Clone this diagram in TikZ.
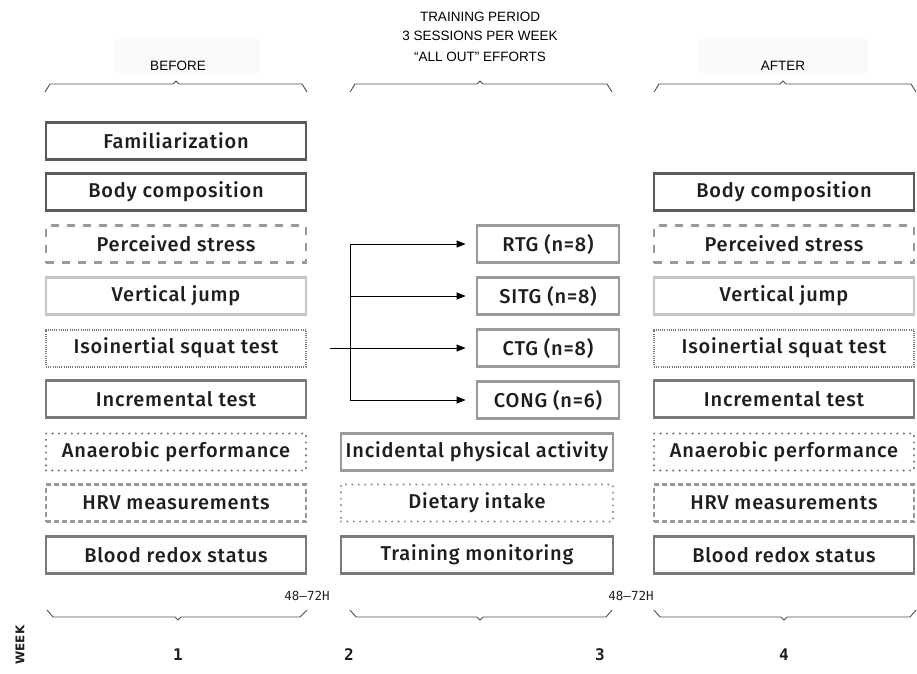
\documentclass[tikz,border=0pt]{standalone}
\usepackage{fontspec}
\setmainfont{Fira Sans}[UprightFont=* Medium, LetterSpace=4]
\newfontfamily\capfont{Liberation Sans}
\newfontfamily\monofont{DejaVu Sans Mono}
\newfontfamily\weekfont{DejaVu Sans}
\usetikzlibrary{arrows.meta}
\definecolor{txt}{HTML}{1E1E1E}
\definecolor{cdark}{HTML}{5A5A5A}
\definecolor{cmid}{HTML}{7A7A7A}
\definecolor{cgray}{HTML}{999999}
\definecolor{clight}{HTML}{C4C4C4}
\definecolor{cfaint}{HTML}{FAFAFA}
\tikzset{
  box/.style={draw, rectangle, line width=2.8pt, minimum height=37pt, inner sep=0pt,
    text=txt, font=\fontsize{20}{22}\selectfont, fill=white},
  wbox/.style={box, minimum width=260pt},
  gbox/.style={box, minimum width=142pt, draw=cgray},
  sdark/.style={draw=cdark},
  smid/.style={draw=cmid},
  slight/.style={draw=clight},
  sdashlong/.style={draw=cgray, dash pattern=on 8pt off 8pt},
  sdashshort/.style={draw=cgray, dash pattern=on 5pt off 3pt},
  sdotdense/.style={draw=cmid, line width=2pt, dash pattern=on 1pt off 1.2pt},
  sdotsparse/.style={draw=cmid, line width=2.4pt, line cap=round, dash pattern=on 0pt off 6.4pt},
  sdotsparselight/.style={draw=cgray, line width=2.4pt, line cap=round, dash pattern=on 0pt off 6.4pt},
  conn/.style={line width=0.9pt, draw=black},
  arr/.style={conn, -{Triangle[length=9pt,width=7pt]}},
  brace/.style={line width=0.9pt, draw=black!70},
  caplbl/.style={font=\capfont\fontsize{13.5}{15}\selectfont, text=black, inner sep=0pt},
  hlbl/.style={font=\monofont\fontsize{12.5}{14}\selectfont, text=txt, inner sep=0pt},
  wklbl/.style={font=\monofont\bfseries\fontsize{16}{17}\selectfont, text=txt, inner sep=0pt},
}
\begin{document}
\begin{tikzpicture}[x=1pt,y=-1pt]
\useasboundingbox (0,0) rectangle (917,673);
% faint header panels
\fill[cfaint] (113,39) rectangle (260,73);
\fill[cfaint] (697,39) rectangle (868,73);
% header texts
\node[caplbl] (tp) at (480,17) {TRAINING PERIOD};
\node[caplbl] (spw) at (480,36) {3 SESSIONS PER WEEK};
\node[caplbl] (aoe) at (480,57) {“ALL OUT” EFFORTS};
\node[caplbl] (bef) at (178,66) {BEFORE};
\node[caplbl] (aft) at (783,66) {AFTER};
% top braces
\draw[brace] (45,92) -- (50,84) -- (173,84) -- (176,81) -- (179,84) -- (302,84) -- (307,92);
\draw[brace] (350,92) -- (355,84) -- (477,84) -- (480,81) -- (483,84) -- (607,84) -- (612,92);
\draw[brace] (654,92) -- (659,84) -- (780,84) -- (783,81) -- (786,84) -- (911,84) -- (916,92);
% left column
\node[wbox,sdark] (b1) at (176,141) {Familiarization};
\node[wbox,sdark] (b2) at (176,192) {Body composition};
\node[wbox,sdashlong] (b3) at (176,244) {Perceived stress};
\node[wbox,slight] (b4) at (176,296) {Vertical jump};
\node[wbox,sdotdense] (b5) at (176,348) {Isoinertial squat test};
\node[wbox,smid] (b6) at (176,399) {Incremental test};
\node[wbox,sdotsparse] (b7) at (176,452) {Anaerobic performance};
\node[wbox,sdashshort] (b8) at (176,503) {HRV measurements};
\node[wbox,smid] (b9) at (176,555) {Blood redox status};
% middle column
\node[gbox] (rtg) at (548,244) {RTG (n=8)};
\node[gbox] (sitg) at (548,296) {SITG (n=8)};
\node[gbox] (ctg) at (548,348) {CTG (n=8)};
\node[gbox] (cong) at (548,400) {CONG (n=6)};
\node[box, minimum width=272pt, draw=cgray] (m1) at (477,452) {Incidental physical activity};
\node[box, minimum width=272pt, sdotsparselight] (m2) at (477,503) {Dietary intake};
\node[box, minimum width=272pt, smid] (m3) at (477,555) {Training monitoring};
% right column
\node[wbox,sdark] (a2) at (784,192) {Body composition};
\node[wbox,sdashlong] (a3) at (784,244) {Perceived stress};
\node[wbox,slight] (a4) at (784,296) {Vertical jump};
\node[wbox,sdotdense] (a5) at (784,348) {Isoinertial squat test};
\node[wbox,smid] (a6) at (784,399) {Incremental test};
\node[wbox,sdotsparse] (a7) at (784,452) {Anaerobic performance};
\node[wbox,sdashshort] (a8) at (784,503) {HRV measurements};
\node[wbox,smid] (a9) at (784,555) {Blood redox status};
% connectors
\coordinate (start) at (330,348);
\coordinate (jtop) at (350,244);
\coordinate (jmid) at (350,296);
\coordinate (jbot) at (350,400);
\draw[conn] (jtop) -- (jbot);
\draw[arr] (start) -- ([xshift=-10pt]ctg.west);
\draw[arr] (jtop) -- ([xshift=-10pt]rtg.west);
\draw[arr] (jmid) -- ([xshift=-10pt]sitg.west);
\draw[arr] (jbot) -- ([xshift=-10pt]cong.west);
% 48-72H
\node[hlbl] (h1) at (307,596) {48—72H};
\node[hlbl] (h2) at (631,596) {48—72H};
% bottom braces
\draw[brace] (47,610) -- (53,617) -- (175,617) -- (178,620) -- (181,617) -- (300,617) -- (307,610);
\draw[brace] (350,610) -- (356,617) -- (477,617) -- (480,620) -- (483,617) -- (606,617) -- (612,610);
\draw[brace] (654,610) -- (660,617) -- (781,617) -- (784,620) -- (787,617) -- (910,617) -- (916,610);
% week labels
\node[wklbl] (w1) at (178,655) {1};
\node[wklbl] (w2) at (349,655) {2};
\node[wklbl] (w3) at (600,655) {3};
\node[wklbl] (w4) at (784,655) {4};
\node[font=\weekfont\bfseries\fontsize{12}{13}\selectfont, text=txt, rotate=90, inner sep=0pt] (wk) at (20,645) {WEEK};
\end{tikzpicture}
\end{document}
